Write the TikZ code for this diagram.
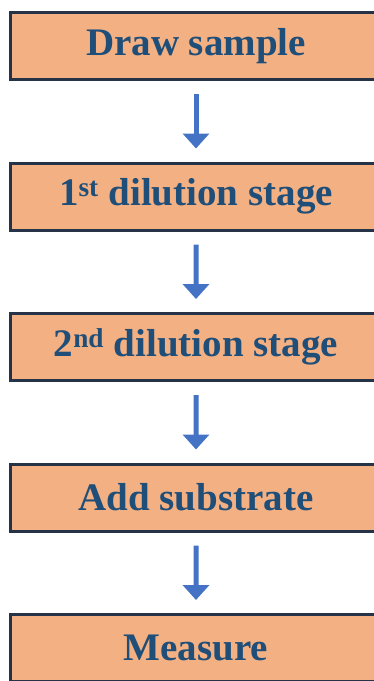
\documentclass[tikz,border=0pt]{standalone}
\usepackage{fontspec}
\setmainfont{Liberation Serif}
\usetikzlibrary{arrows.meta}

\definecolor{boxfill}{HTML}{F3B083}
\definecolor{boxline}{HTML}{263248}
\definecolor{boxtext}{HTML}{1F4E79}
\definecolor{arrowblue}{HTML}{4472C4}

\begin{document}
\begin{tikzpicture}[x=1pt,y=1pt,level distance=150.5pt,
		stagebox/.style={draw=boxline, line width=3pt, fill=boxfill, text=boxtext,
			font=\bfseries\fontsize{39}{44}\selectfont,
			minimum width=371pt, minimum height=67pt},
		edge from parent/.style={draw=arrowblue, line width=5pt,
			shorten <=13pt, shorten >=13pt, -{Triangle[width=26pt,length=15pt]}}]
		
		\useasboundingbox (0,0) rectangle (374,-681);
		
		% one box per step, arrows come from the tree edges
		\node[stagebox] (draw) at (196,-46) {Draw sample}
		child {node[stagebox] (first) {1\textsuperscript{st} dilution stage}
			child {node[stagebox] (second) {2\textsuperscript{nd} dilution stage}
				child {node[stagebox] (substrate) {Add substrate}
					child {node[stagebox] (measure) {Measure}}
				}
			}
		};
		
		\end{tikzpicture}
\end{document}
